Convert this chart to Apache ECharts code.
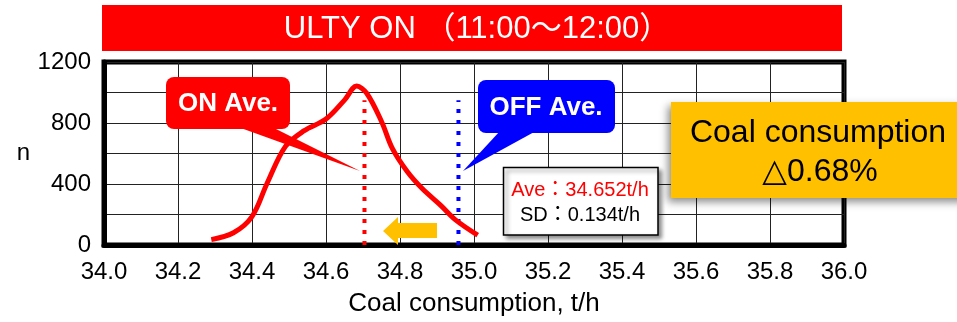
<!DOCTYPE html>
<html>
<head>
<meta charset="utf-8">
<script src="https://cdn.jsdelivr.net/npm/echarts@6/dist/echarts.min.js"></script>
<style>
html,body{margin:0;padding:0;background:#fff;}
#chart{width:957px;height:322px;}
</style>
</head>
<body>
<div id="chart"></div>
<script>
// ---- data ----
const coalX   = [34.29, 34.35, 34.40, 34.44, 34.49, 34.54, 34.60, 34.65, 34.683, 34.71, 34.75, 34.78, 34.82, 34.86, 34.91, 34.95, 35.01];
const countN  = [35,    80,    186,   400,   645,   748,   826,   950,   1042,   995,   810,   630,   480,   370,   260,   165,   65];
const onAveX  = 34.704;   // red dotted marker position
const offAveX = 34.958;   // blue dotted marker position
const markerTop = 950;
const xTicks = [34.0, 34.2, 34.4, 34.6, 34.8, 35.0, 35.2, 35.4, 35.6, 35.8, 36.0];
const yTicks = [0, 400, 800, 1200];
const titleText = 'ULTY ON （11:00～12:00）';
const aveText = 'Ave：34.652t/h';
const sdText = 'SD：0.134t/h';
const boxLine1 = 'Coal consumption';
const boxLine2 = '△0.68%';

const FONT = '"Liberation Sans", Arial, "DejaVu Sans", "Noto Sans CJK JP", sans-serif';

const curve = coalX.map((x, i) => [x, countN[i]]);

const chart = echarts.init(document.getElementById('chart'), null, {renderer: 'canvas'});
chart.setOption({
  animation: false,
  grid: {left: 104, right: 113, top: 62, bottom: 75, show: true, borderColor: '#000', borderWidth: 5, backgroundColor: 'transparent'},
  xAxis: {
    type: 'value', min: xTicks[0], max: xTicks[xTicks.length - 1], interval: 0.2,
    name: 'Coal consumption, t/h', nameLocation: 'middle', nameGap: 46,
    nameTextStyle: {fontFamily: FONT, fontSize: 26, color: '#000'},
    axisLine: {show: true, onZero: false, lineStyle: {color: '#000', width: 5}},
    axisTick: {show: false},
    axisLabel: {fontFamily: FONT, fontSize: 24, color: '#000', margin: 15,
      formatter: v => v.toFixed(1)},
    splitLine: {show: true, lineStyle: {color: '#222', width: 1}}
  },
  yAxis: {
    type: 'value', min: 0, max: 1200, interval: 200,
    name: 'n', nameLocation: 'middle', nameGap: 74, nameRotate: 0,
    nameTextStyle: {fontFamily: FONT, fontSize: 24, color: '#000'},
    axisLine: {show: true, lineStyle: {color: '#000', width: 5}},
    axisTick: {show: false},
    axisLabel: {fontFamily: FONT, fontSize: 24, color: '#000', margin: 13, padding: [6, 0, 0, 0],
      formatter: v => (yTicks.indexOf(v) >= 0 ? String(v) : '')},
    splitLine: {show: true, lineStyle: {color: '#222', width: 1}}
  },
  series: [
    {
      name: 'ON Ave.', type: 'line', data: [[onAveX, 0], [onAveX, markerTop]],
      symbol: 'none', silent: true, z: 3,
      lineStyle: {color: '#FF0000', width: 4, type: [4, 7], cap: 'butt'}
    },
    {
      name: 'OFF Ave.', type: 'line', data: [[offAveX, 0], [offAveX, markerTop]],
      symbol: 'none', silent: true, z: 3,
      lineStyle: {color: '#0000FF', width: 4, type: [4, 7], cap: 'butt'}
    },
    {
      name: 'distribution', type: 'line', data: curve, smooth: 0.35,
      symbol: 'none', z: 4,
      lineStyle: {color: '#FF0000', width: 5}
    }
  ],
  graphic: [
    // title banner
    {type: 'rect', z: 100, shape: {x: 102, y: 5, width: 740, height: 46}, style: {fill: '#FF0000'}},
    {type: 'text', z: 101, x: 477, y: 29, style: {text: titleText, fill: '#fff', fontSize: 31, fontFamily: FONT, align: 'center', verticalAlign: 'middle'}},
    // ON Ave callout
    {type: 'polygon', z: 100, shape: {points: [[238, 127], [272, 127], [360, 171]]}, style: {fill: '#FF0000'}},
    {type: 'rect', z: 100, shape: {x: 166, y: 77, width: 124, height: 52, r: 8}, style: {fill: '#FF0000'}},
    {type: 'text', z: 101, x: 228, y: 104, style: {text: 'ON Ave.', fill: '#fff', fontSize: 26, fontWeight: 'bold', fontFamily: FONT, align: 'center', verticalAlign: 'middle'}},
    // OFF Ave callout
    {type: 'polygon', z: 100, shape: {points: [[500, 131], [536, 131], [463, 171]]}, style: {fill: '#0000FF'}},
    {type: 'rect', z: 100, shape: {x: 478, y: 80, width: 137, height: 53, r: 8}, style: {fill: '#0000FF'}},
    {type: 'text', z: 101, x: 546, y: 108, style: {text: 'OFF Ave.', fill: '#fff', fontSize: 26, fontWeight: 'bold', fontFamily: FONT, align: 'center', verticalAlign: 'middle'}},
    // info box
    {type: 'rect', z: 100, shape: {x: 503.5, y: 167.5, width: 154.5, height: 67.5},
      style: {fill: '#fff', stroke: '#000', lineWidth: 1.5, shadowBlur: 4, shadowOffsetX: 3, shadowOffsetY: 3, shadowColor: 'rgba(0,0,0,0.45)'}},
    {type: 'text', z: 101, x: 580, y: 190, style: {text: aveText, fill: '#FF0000', fontSize: 20, fontFamily: FONT, align: 'center', verticalAlign: 'middle'}},
    {type: 'text', z: 101, x: 580, y: 215, style: {text: sdText, fill: '#000', fontSize: 20, fontFamily: FONT, align: 'center', verticalAlign: 'middle'}},
    // yellow arrow
    {type: 'polygon', z: 100, shape: {points: [[383, 231], [398, 217], [398, 223], [437, 223], [437, 238], [398, 238], [398, 245]]}, style: {fill: '#FFC000'}},
    // orange summary box
    {type: 'rect', z: 100, shape: {x: 671, y: 102, width: 300, height: 96},
      style: {fill: '#FFC000', shadowBlur: 8, shadowOffsetX: -3, shadowOffsetY: 4, shadowColor: 'rgba(0,0,0,0.45)'}},
    {type: 'text', z: 101, x: 818, y: 133, style: {text: boxLine1, fill: '#000', fontSize: 32, fontFamily: FONT, align: 'center', verticalAlign: 'middle'}},
    {type: 'text', z: 101, x: 820, y: 172, style: {text: boxLine2, fill: '#000', fontSize: 32, fontFamily: FONT, align: 'center', verticalAlign: 'middle'}}
  ]
});
</script>
</body>
</html>
